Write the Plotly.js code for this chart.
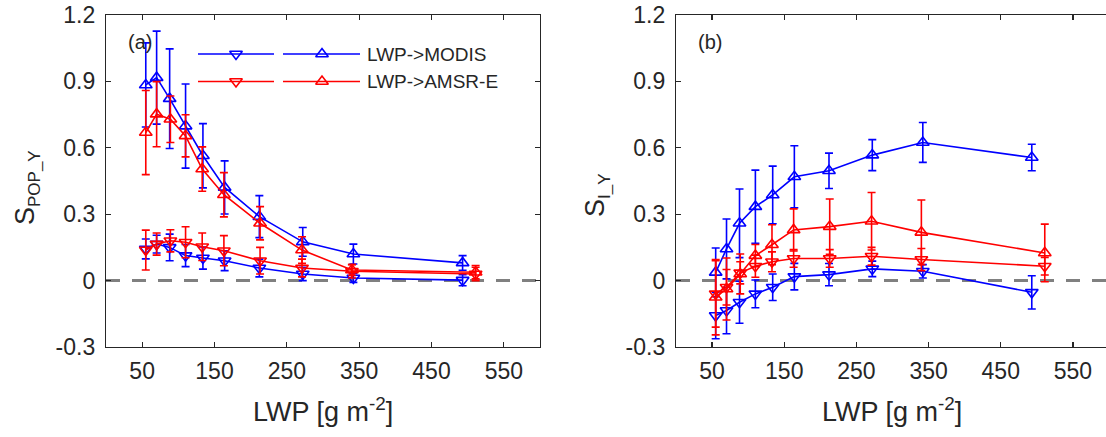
<!DOCTYPE html>
<html>
<head>
<meta charset="utf-8">
<script src="https://cdn.plot.ly/plotly-3.0.1.min.js"></script>
<style>html,body{margin:0;padding:0;background:#fff;}#chart{width:1106px;height:437px;}</style>
</head>
<body>
<div id="chart"></div>
<script>
// LWP bin centres [g m^-2]
const lwpModis = [55, 70, 88, 110, 134, 164, 212, 272, 342, 493];
const lwpAmsr  = [55, 70, 89, 110, 133, 163, 213, 271, 340, 511];

// Panel (a): S_POP_Y
const popModisUp      = [0.884, 0.917, 0.822, 0.698, 0.564, 0.421, 0.289, 0.175, 0.120, 0.080];
const popModisUpErr   = [0.19, 0.21, 0.225, 0.19, 0.145, 0.12, 0.095, 0.065, 0.045, 0.033];
const popModisDown    = [0.143, 0.165, 0.150, 0.113, 0.102, 0.090, 0.057, 0.030, 0.012, 0.002];
const popModisDownErr = [0.045, 0.04, 0.06, 0.05, 0.05, 0.045, 0.04, 0.03, 0.02, 0.025];
const popAmsrUp       = [0.669, 0.752, 0.729, 0.654, 0.504, 0.388, 0.259, 0.138, 0.048, 0.038];
const popAmsrUpErr    = [0.19, 0.147, 0.105, 0.095, 0.10, 0.10, 0.075, 0.06, 0.025, 0.03];
const popAmsrDown     = [0.138, 0.165, 0.180, 0.173, 0.153, 0.135, 0.090, 0.057, 0.042, 0.030];
const popAmsrDownErr  = [0.09, 0.05, 0.05, 0.07, 0.062, 0.068, 0.06, 0.04, 0.03, 0.03];

// Panel (b): S_I_Y
const iModisUp      = [0.037, 0.143, 0.259, 0.334, 0.387, 0.469, 0.496, 0.567, 0.624, 0.556];
const iModisUpErr   = [0.11, 0.135, 0.155, 0.165, 0.13, 0.14, 0.08, 0.07, 0.09, 0.06];
const iModisDown    = [-0.158, -0.135, -0.098, -0.060, -0.030, 0.018, 0.027, 0.053, 0.042, -0.053];
const iModisDownErr = [0.105, 0.105, 0.095, 0.063, 0.06, 0.06, 0.05, 0.035, 0.03, 0.075];
const iAmsrUp       = [-0.075, -0.038, 0.030, 0.113, 0.162, 0.229, 0.244, 0.268, 0.218, 0.125];
const iAmsrUpErr    = [0.17, 0.14, 0.09, 0.05, 0.09, 0.095, 0.125, 0.13, 0.146, 0.13];
const iAmsrDown     = [-0.060, -0.030, 0.035, 0.065, 0.085, 0.100, 0.100, 0.110, 0.095, 0.065];
const iAmsrDownErr  = [0.15, 0.08, 0.05, 0.05, 0.045, 0.04, 0.04, 0.04, 0.05, 0.04];

const legendNames = ['LWP->MODIS', 'LWP->AMSR-E'];
const xTicks = [50, 150, 250, 350, 450, 550];
const yTicks = [-0.3, 0, 0.3, 0.6, 0.9, 1.2];
const yTickText = ['-0.3', '0', '0.3', '0.6', '0.9', '1.2'];

const BLUE = '#0000ff', RED = '#ff0000';
const FONT = 'Liberation Sans, Arial, sans-serif';
const TXT = '#262626';

function series(x, y, err, color, sym, xa, ya) {
  return {
    type: 'scatter', mode: 'lines+markers', x: x, y: y, xaxis: xa, yaxis: ya,
    showlegend: false, hoverinfo: 'skip',
    line: {color: color, width: 1.6},
    marker: {symbol: sym, size: 11, color: color, line: {color: color, width: 1.6}},
    error_y: {type: 'data', array: err, visible: true, color: color, thickness: 1.6, width: 4}
  };
}

const traces = [
  series(lwpModis, popModisDown, popModisDownErr, BLUE, 'triangle-down-open', 'x', 'y'),
  series(lwpModis, popModisUp, popModisUpErr, BLUE, 'triangle-up-open', 'x', 'y'),
  series(lwpAmsr, popAmsrDown, popAmsrDownErr, RED, 'triangle-down-open', 'x', 'y'),
  series(lwpAmsr, popAmsrUp, popAmsrUpErr, RED, 'triangle-up-open', 'x', 'y'),
  series(lwpModis, iModisDown, iModisDownErr, BLUE, 'triangle-down-open', 'x2', 'y2'),
  series(lwpModis, iModisUp, iModisUpErr, BLUE, 'triangle-up-open', 'x2', 'y2'),
  series(lwpAmsr, iAmsrDown, iAmsrDownErr, RED, 'triangle-down-open', 'x2', 'y2'),
  series(lwpAmsr, iAmsrUp, iAmsrUpErr, RED, 'triangle-up-open', 'x2', 'y2')
];

// Legend glyphs on a hidden pixel-scaled overlay axis
const legColors = [BLUE, RED];
const legY = [54, 81.5];
legColors.forEach((c, i) => {
  traces.push({type: 'scatter', mode: 'lines', x: [198, 274], y: [legY[i], legY[i]], xaxis: 'x3', yaxis: 'y3',
    line: {color: c, width: 1.6}, showlegend: false, hoverinfo: 'skip'});
  traces.push({type: 'scatter', mode: 'lines', x: [283, 360], y: [legY[i], legY[i]], xaxis: 'x3', yaxis: 'y3',
    line: {color: c, width: 1.6}, showlegend: false, hoverinfo: 'skip'});
  traces.push({type: 'scatter', mode: 'markers', x: [236, 322], y: [legY[i], legY[i]], xaxis: 'x3', yaxis: 'y3',
    marker: {symbol: ['triangle-down-open', 'triangle-up-open'], size: 11, color: c, line: {color: c, width: 1.6}},
    showlegend: false, hoverinfo: 'skip'});
});

const W = 1106, H = 437;
const yDom = [(H - 347) / H, (H - 15) / H];

function xAxis(domain, range, anchor) {
  return {
    domain: domain, range: range, anchor: anchor,
    tickvals: xTicks, ticktext: xTicks.map(String), ticks: 'inside', ticklen: 5, tickwidth: 1.2, tickcolor: TXT,
    showline: true, linecolor: TXT, linewidth: 1.2, mirror: 'ticks', showgrid: false, zeroline: false,
    tickfont: {family: FONT, size: 23, color: TXT}, ticklabelstandoff: 3
  };
}
function yAxis(anchor, mirror) {
  return {
    domain: yDom, range: [-0.3, 1.2], anchor: anchor,
    tickvals: yTicks, ticktext: yTickText, ticks: 'inside', ticklen: 5, tickwidth: 1.2, tickcolor: TXT,
    showline: true, linecolor: TXT, linewidth: 1.2, mirror: mirror, showgrid: false, zeroline: false,
    tickfont: {family: FONT, size: 23, color: TXT}, ticklabelstandoff: 5
  };
}

function ann(x, y, text, size, extra) {
  return Object.assign({xref: 'paper', yref: 'paper', x: x / W, y: 1 - y / H, text: text, showarrow: false,
    xanchor: 'left', yanchor: 'middle', font: {family: FONT, size: size, color: TXT}}, extra || {});
}

const layout = {
  width: W, height: H, margin: {l: 0, r: 0, t: 0, b: 0},
  paper_bgcolor: '#ffffff', plot_bgcolor: 'rgba(0,0,0,0)',
  showlegend: false,
  xaxis: xAxis([106 / W, 540 / W], [0, 600], 'y'),
  yaxis: yAxis('x', 'ticks'),
  xaxis2: xAxis([676 / W, 1], [0, 600 * (W - 676) / 433], 'y2'),
  yaxis2: yAxis('x2', false),
  xaxis3: {domain: [0, 1], range: [0, W], anchor: 'y3', visible: false, fixedrange: true},
  yaxis3: {domain: [0, 1], range: [H, 0], anchor: 'x3', visible: false, fixedrange: true},
  shapes: [
    {type: 'line', xref: 'x domain', yref: 'y', x0: 0, x1: 1, y0: 0, y1: 0, layer: 'below',
     line: {color: '#808080', width: 3, dash: '14px,12px'}},
    {type: 'line', xref: 'x2 domain', yref: 'y2', x0: 0, x1: 1, y0: 0, y1: 0, layer: 'below',
     line: {color: '#808080', width: 3, dash: '14px,12px'}}
  ],
  annotations: [
    ann(126, 42, '(a)', 20),
    ann(696, 42, '(b)', 20),
    ann(365, 54, legendNames[0], 19),
    ann(365, 81.5, legendNames[1], 19),
    ann(323, 410, 'LWP [g m<sup>-2</sup>]', 27, {xanchor: 'center'}),
    ann(892, 410, 'LWP [g m<sup>-2</sup>]', 27, {xanchor: 'center'}),
    ann(27, 188, 'S<sub><span style="font-size:17px">POP_Y</span></sub>', 27, {xanchor: 'center', textangle: -90}),
    ann(597, 195, 'S<sub><span style="font-size:17px">I_Y</span></sub>', 27, {xanchor: 'center', textangle: -90})
  ]
};

Plotly.newPlot('chart', traces, layout, {staticPlot: true, displayModeBar: false});
</script>
</body>
</html>
